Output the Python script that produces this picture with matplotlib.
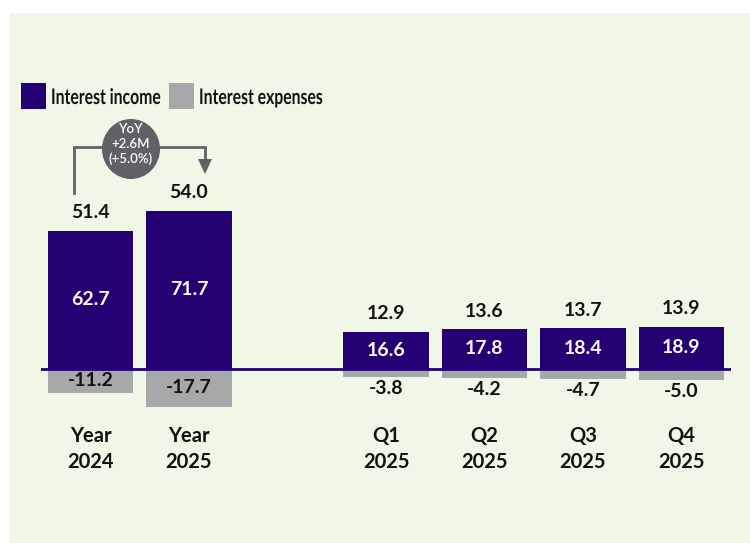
import matplotlib
matplotlib.use("Agg")
import matplotlib.pyplot as plt
from matplotlib.patches import Rectangle, Ellipse, Polygon, PathPatch
from matplotlib.textpath import TextPath
from matplotlib.font_manager import FontProperties
from matplotlib.transforms import Affine2D

plt.rcParams['font.family'] = ['Lato', 'DejaVu Sans']

# ---- data ----
categories = ["Year\n2024", "Year\n2025", "Q1\n2025", "Q2\n2025", "Q3\n2025", "Q4\n2025"]
interest_income = [62.7, 71.7, 16.6, 17.8, 18.4, 18.9]
interest_expenses = [-11.2, -17.7, -3.8, -4.2, -4.7, -5.0]
net_interest = [51.4, 54.0, 12.9, 13.6, 13.7, 13.9]
series_names = ["Interest income", "Interest expenses"]
yoy_text = "YoY\n+2.6M\n(+5.0%)"

# ---- style ----
PURPLE = "#240072"
GREY = "#a7a8aa"
DARK = "#111111"
BG = "#f0f7e6"
ARROW = "#5f6166"

W, H = 750, 543
fig = plt.figure(figsize=(W / 100, H / 100), dpi=100)
fig.patch.set_facecolor("white")


def fx(px):
    return px / W


def fy(py):
    return (H - py) / H


# light green panel
fig.add_artist(Rectangle((fx(10), 0), 1 - fx(10), fy(13),
                         transform=fig.transFigure, facecolor=BG,
                         edgecolor="none", zorder=0))

# annual group, gap, then quarterly group
n_years = 2
positions = [i if i < n_years else i + 1 for i in range(len(categories))]

px_per_unit = 2.2
baseline_px = H - 368.5
ymin, ymax = -30, 80
ax_bottom = baseline_px + ymin * px_per_unit
ax_height = (ymax - ymin) * px_per_unit
ax_left = 41.25
ax_width = 689.5
ax = fig.add_axes([ax_left / W, ax_bottom / H, ax_width / W, ax_height / H])
ax.set_xlim(-0.5, 6.5)
ax.set_ylim(ymin, ymax)
ax.axis("off")

bw = 0.863
ax.bar(positions, interest_expenses, width=bw, color=GREY, zorder=2)
ax.bar(positions, interest_income, width=bw, color=PURPLE, zorder=3)
ax.axhline(0, color=PURPLE, lw=2, zorder=4, xmin=-0.002, xmax=1.002)

lab_fs = 14
for x, inc, exp, net, cat in zip(positions, interest_income, interest_expenses,
                                 net_interest, categories):
    ax.text(x, inc / 2, f"{inc:.1f}", ha="center", va="center", color="white",
            fontsize=lab_fs, fontweight="bold", zorder=5)
    ax.annotate(f"{net:.1f}", (x, inc), xytext=(0, 18), textcoords="offset pixels",
                ha="center", va="center", color=DARK, fontsize=lab_fs,
                fontweight="bold", annotation_clip=False)
    if abs(exp) > 8:
        ax.text(x, exp / 2, f"{exp:.1f}", ha="center", va="center", color=DARK,
                fontsize=lab_fs, fontweight="bold", zorder=5)
    else:
        ax.annotate(f"{exp:.1f}", (x, exp), xytext=(0, -12), textcoords="offset pixels",
                    ha="center", va="center", color=DARK, fontsize=lab_fs,
                    fontweight="bold", annotation_clip=False)
    ax.annotate(cat, (x, ymin), xytext=(0, (H - 449) - ax_bottom),
                textcoords="offset pixels", ha="center", va="center",
                color=DARK, fontsize=14.5, fontweight="bold",
                linespacing=1.35, annotation_clip=False)

# year-over-year bracket arrow
fig.add_artist(plt.Line2D([fx(74), fx(74), fx(205), fx(205)],
                          [fy(193), fy(147), fy(147), fy(160)],
                          transform=fig.transFigure, color=ARROW, lw=2,
                          solid_joinstyle="miter", zorder=6))
fig.add_artist(Polygon([[fx(198), fy(159)], [fx(212), fy(159)], [fx(205), fy(174)]],
                       closed=True, transform=fig.transFigure,
                       facecolor=ARROW, edgecolor="none", zorder=6))
fig.add_artist(Ellipse((fx(131), fy(149)), 58 / W, 60 / H, transform=fig.transFigure,
                       facecolor=ARROW, edgecolor="none", zorder=7))
fig.text(fx(131), fy(144), yoy_text, ha="center", va="center", color="white",
         fontsize=9.5, fontweight="semibold", linespacing=1.3, zorder=8)

# legend: condensed bold lettering drawn as text paths
legend_prop = FontProperties(family="Lato", weight="bold")
cap_h = TextPath((0, 0), "I", size=100, prop=legend_prop).get_extents().height
ref_w = TextPath((0, 0), series_names[0], size=100, prop=legend_prop).get_extents().width
sx = 108 / ref_w
sy = 15.5 / cap_h


def condensed_label(text, left_px, baseline_px):
    path = TextPath((0, 0), text, size=100, prop=legend_prop)
    tr = Affine2D().scale(sx, sy).translate(left_px, H - baseline_px) \
        + Affine2D().scale(1 / W, 1 / H) + fig.transFigure
    fig.add_artist(PathPatch(path, transform=tr, facecolor=DARK,
                             edgecolor="none", zorder=5))


for name, color, x0 in zip(series_names, [PURPLE, GREY], [21, 169]):
    fig.add_artist(Rectangle((fx(x0), fy(109)), 25 / W, 26 / H,
                             transform=fig.transFigure,
                             facecolor=color, edgecolor="none"))
    condensed_label(name, x0 + 30, 104)

fig.savefig("out.png", dpi=100, facecolor=fig.get_facecolor())
